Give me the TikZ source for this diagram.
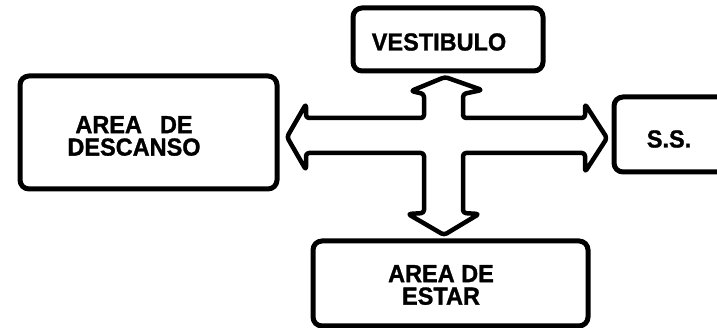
\documentclass[tikz,border=0pt]{standalone}
\usepackage{fontspec}
\setmainfont{Liberation Sans}
\newfontfamily\heavyfont[FakeBold=1.2]{Liberation Sans Bold}
\newcommand\tallline[1]{\scalebox{1}[1.05]{#1}}
\begin{document}
\begin{tikzpicture}[x=1pt,y=-1pt]
\tikzset{
 roombox/.style={draw=black, line width=5pt, rounded corners=9pt, inner sep=0pt},
 roomlabel/.style={font=\fontsize{23.5}{22.5}\selectfont\heavyfont, align=center, inner sep=0pt},
 crossarrow/.style={draw=black, line width=4.5pt, rounded corners=3pt, line join=round}
}
\useasboundingbox (0,0) rectangle (717,328);
\clip (0,0) rectangle (717,328);

\node[roombox, minimum width=257pt, minimum height=113pt] (desc) at (148.5,132.5) {};
\node[roomlabel] (desctext) at (134,136) {\tallline{AREA\hspace{18pt}DE}\\\tallline{DESCANSO}};

\node[roombox, minimum width=190pt, minimum height=63pt] (vest) at (448,39.5) {};
\node[roomlabel] (vesttext) at (439,42) {\tallline{VESTIBULO}};

\node[roombox, minimum width=126pt, minimum height=75pt] (ss) at (677,134.5) {};
\node[roomlabel] (sstext) at (669,139) {\tallline{S.S.}};

\node[roombox, minimum width=275pt, minimum height=85pt] (estar) at (450.5,283.5) {};
\node[roomlabel] (estartext) at (441,285) {\tallline{AREA DE}\\\tallline{ESTAR}};

\draw[crossarrow] (445,77) -- (482,90) -- (463,94) -- (463,118) -- (585,118)
  -- (585,104) -- (607,138) -- (585,172) -- (585,153) -- (463,153)
  -- (463,213) -- (479,214) -- (444,235) -- (408,214) -- (424,213)
  -- (424,153) -- (306,153) -- (306,170) -- (287,137) -- (306,104)
  -- (306,118) -- (424,118) -- (424,94) -- (411,91) -- cycle;
\end{tikzpicture}
\end{document}
